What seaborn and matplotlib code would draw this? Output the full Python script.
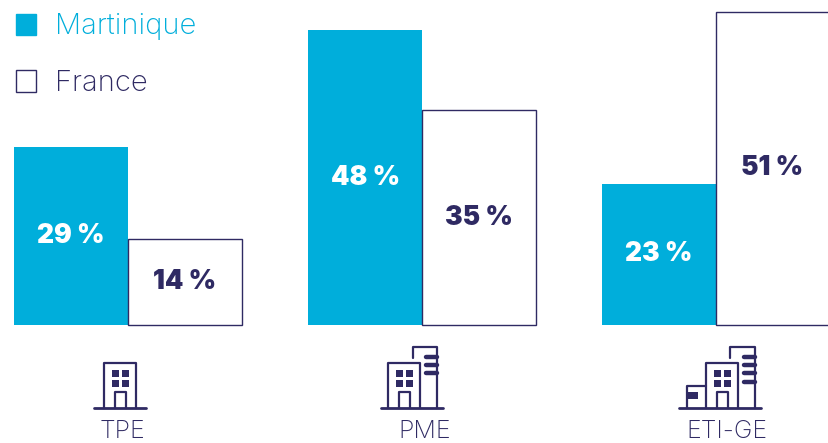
import matplotlib
matplotlib.use("Agg")
import matplotlib.pyplot as plt
from matplotlib.patches import Patch, Rectangle
import pandas as pd
import seaborn as sns

# ---------------------------
# Data
# ---------------------------
categories = ["TPE", "PME", "ETI-GE"]
martinique = [29, 48, 23]
france = [14, 35, 51]
series_names = ["Martinique", "France"]

CYAN = "#00aedb"
NAVY = "#2f2a63"
W, H = 829, 443

df = pd.DataFrame({
    "categorie": categories * 2,
    "zone": [series_names[0]] * 3 + [series_names[1]] * 3,
    "valeur": martinique + france,
})

sns.set_theme(style="white")
plt.rcParams["font.family"] = ["Inter", "DejaVu Sans"]

fig = plt.figure(figsize=(W / 100, H / 100), dpi=100)
ax = fig.add_axes([0, 0, 1, 1])

sns.barplot(data=df, x="categorie", y="valeur", hue="zone", order=categories,
            hue_order=series_names, palette=[CYAN, "white"], width=0.773,
            gap=0, saturation=1, legend=False, ax=ax)

# 294 px between groups, 6.14 px for one percent, baseline at y=325
ax.set_xlim(-128 / 294, (W - 128) / 294)
ax.set_ylim(-(H - 325) / 6.14, 325 / 6.14)
ax.axis("off")

for bar in ax.containers[1]:
    bar.set_edgecolor(NAVY)
    bar.set_linewidth(1.0)
for bar in ax.containers[0]:
    bar.set_edgecolor("none")

for container, color in zip(ax.containers, ["white", NAVY]):
    ax.bar_label(container, labels=[f"{v:.0f} %" for v in container.datavalues],
                 label_type="center", color=color, fontsize=19, fontweight="black")

# ---------------------------
# Legend
# ---------------------------
handles = [Patch(facecolor=CYAN, edgecolor=CYAN), Patch(facecolor="white", edgecolor=NAVY, linewidth=1.0)]
leg = ax.legend(handles, series_names, loc="upper left", bbox_to_anchor=(16 / W, 1 - 13.5 / H),
                frameon=False, fontsize=21, handlelength=0.68, handleheight=0.76,
                handletextpad=0.66, labelspacing=1.02, borderpad=0, borderaxespad=0)
for text, color in zip(leg.get_texts(), [CYAN, NAVY]):
    text.set_color(color)
    text.set_fontweight("light")

# ---------------------------
# Building icons, on an overlay in pixel coordinates
# ---------------------------
icons = fig.add_axes([0, 0, 1, 1], facecolor="none")
icons.set_xlim(0, W)
icons.set_ylim(H, 0)
icons.axis("off")


def line(xs, ys, lw=1.6):
    icons.plot(xs, ys, color=NAVY, lw=lw, solid_capstyle="round", solid_joinstyle="round")


def block(x0, x1, y0, y1):
    icons.add_patch(Rectangle((x0, y0), x1 - x0, y1 - y0, facecolor=NAVY, edgecolor="none"))


def building(x, ground_left, ground_right):
    # x is the left wall of the main building
    line([ground_left, ground_right], [408, 408], lw=2)
    line([x, x, x + 32, x + 32], [408, 362.5, 362.5, 408])
    line([x + 11, x + 11, x + 22, x + 22], [408, 391.5, 391.5, 408])
    for wx in (x + 8, x + 18):
        for wy in (370, 380):
            block(wx, wx + 7, wy, wy + 7)


def tower(left, right, bars):
    line([left, left, right, right], [358, 347, 347, 408])
    for y in bars:
        line([right - 11, right], [y, y], lw=3.2)


building(104, 94, 146)
building(388.5, 381, 443)
tower(413, 437, [356.7, 365, 373.3])
building(706, 679, 761)
tower(730, 755, [357, 365, 373, 382])
line([687, 687, 706], [408, 386, 386])
block(687, 698, 392, 399)

for name, cx in zip(categories, [122, 424.5, 727]):
    icons.text(cx, 432, name, color=NAVY, fontsize=18, fontweight="light", ha="center", va="center")

fig.savefig("out.png", dpi=100)
